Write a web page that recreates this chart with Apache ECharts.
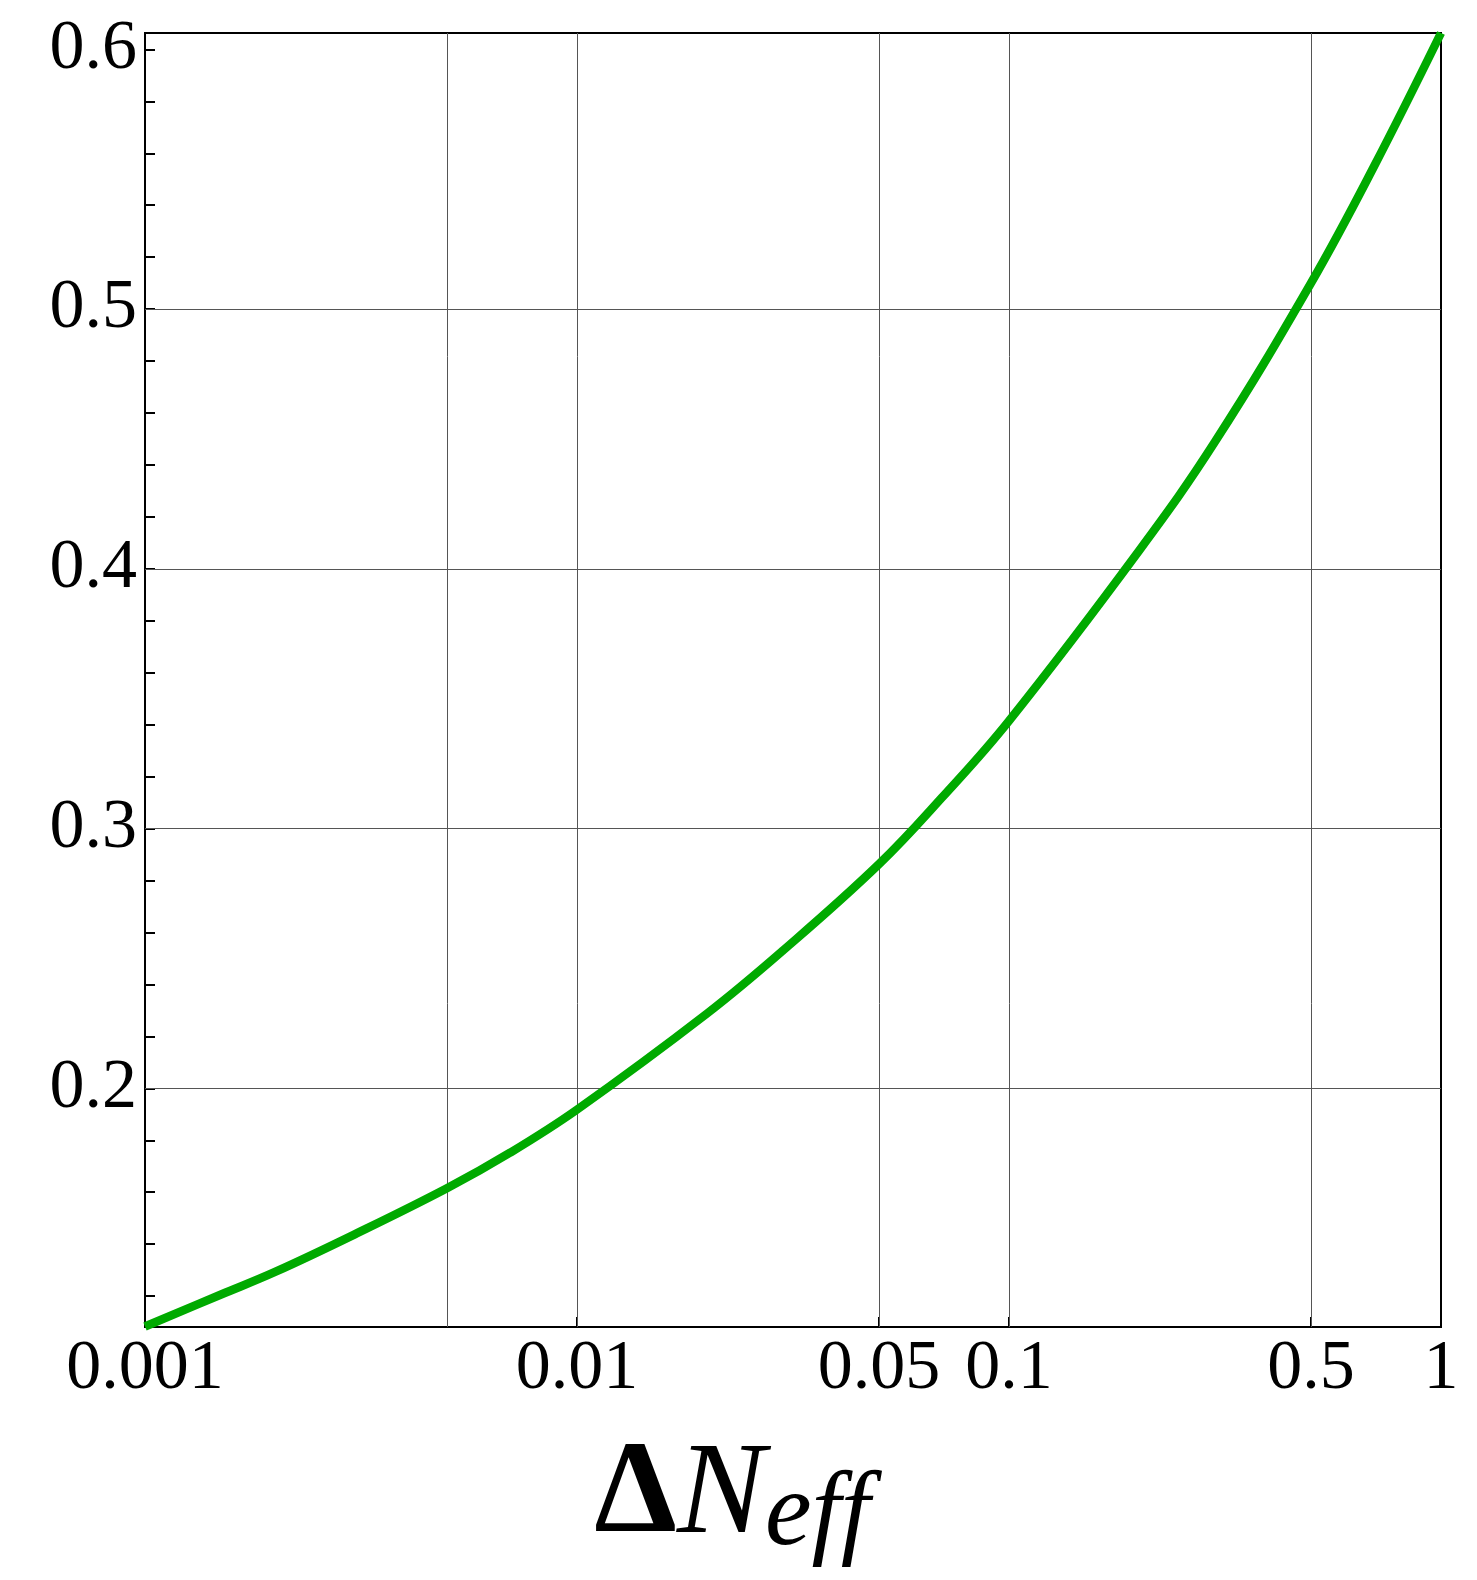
<!DOCTYPE html>
<html>
<head>
<meta charset="utf-8">
<script src="https://cdn.jsdelivr.net/npm/echarts@6/dist/echarts.min.js"></script>
<style>
  html, body { margin: 0; padding: 0; background: #fff; }
  #chart { width: 1477px; height: 1580px; }
</style>
</head>
<body>
<div id="chart"></div>
<script>
// ΔN_eff sample points (log-spaced) and the curve value at each
const deltaNeff = [0.001, 0.0015, 0.002, 0.003, 0.005, 0.007, 0.01, 0.02, 0.03, 0.05, 0.07, 0.1, 0.2, 0.3, 0.5, 0.7, 1];
const curveValues = [0.1083, 0.1206, 0.1293, 0.1431, 0.1615, 0.1752, 0.1918, 0.2288, 0.2531, 0.2863, 0.312, 0.3415, 0.407, 0.449, 0.510, 0.555, 0.6063];

// axis ranges
const xRange = [0.001, 1];
const yRange = [0.1081, 0.6063];

// tick labels and grid lines
const xTickLabels = [0.001, 0.01, 0.05, 0.1, 0.5, 1];
const xTickMarks = [0.01, 0.05, 0.1, 0.5];
const xGridLines = [0.005, 0.01, 0.05, 0.1, 0.5];
const yTickLabels = [0.2, 0.3, 0.4, 0.5, 0.6];
const yTickMarks = [0.12, 0.14, 0.16, 0.18, 0.2, 0.22, 0.24, 0.26, 0.28, 0.3, 0.32, 0.34, 0.36, 0.38, 0.4, 0.42, 0.44, 0.46, 0.48, 0.5, 0.52, 0.54, 0.56, 0.58, 0.6];
const yGridLines = [0.2, 0.3, 0.4, 0.5];

const FONT = "'Liberation Serif', 'Times New Roman', serif";

const chart = echarts.init(document.getElementById('chart'), null, { renderer: 'canvas' });

// vertical grid lines span the full y range, horizontal ones the full x range
const gridLineData = xGridLines
  .map(v => [{ coord: [v, yRange[0]] }, { coord: [v, yRange[1]] }])
  .concat(yGridLines.map(v => [{ coord: [xRange[0], v] }, { coord: [xRange[1], v] }]));

chart.setOption({
  animation: false,
  backgroundColor: '#fff',
  grid: {
    left: 145, top: 33, right: 36, bottom: 253,
    show: true, borderColor: '#000', borderWidth: 2, backgroundColor: 'transparent'
  },
  xAxis: {
    type: 'log',
    logBase: 10,
    min: xRange[0],
    max: xRange[1],
    axisLine: { show: true, lineStyle: { color: '#000', width: 2 } },
    axisTick: { show: true, inside: true, length: 10, customValues: xTickMarks, lineStyle: { color: '#000', width: 2 } },
    minorTick: { show: false },
    splitLine: { show: false },
    axisLabel: {
      customValues: xTickLabels,
      fontFamily: FONT, fontSize: 70, color: '#000', margin: 8,
      formatter: v => String(+(+v).toPrecision(6))
    },
    name: '{d|Δ}{n|N}{s|eff}',
    nameLocation: 'middle',
    nameGap: 110,
    nameTextStyle: {
      padding: [0, 122, 0, 0],
      rich: {
        d: { fontFamily: FONT, fontSize: 132, fontWeight: 'bold', color: '#000', verticalAlign: 'bottom', lineHeight: 132, padding: [0, 0, 6, 0] },
        n: { fontFamily: FONT, fontSize: 132, fontStyle: 'italic', color: '#000', verticalAlign: 'bottom', lineHeight: 132, padding: [0, 0, 6, 0] },
        s: { fontFamily: FONT, fontSize: 105, fontStyle: 'italic', color: '#000', verticalAlign: 'bottom', lineHeight: 105 }
      }
    }
  },
  yAxis: {
    type: 'value',
    min: yRange[0],
    max: yRange[1],
    axisLine: { show: true, lineStyle: { color: '#000', width: 2 } },
    axisTick: { show: true, inside: true, length: 10, customValues: yTickMarks, lineStyle: { color: '#000', width: 2 } },
    splitLine: { show: false },
    axisLabel: {
      customValues: yTickLabels,
      fontFamily: FONT, fontSize: 70, color: '#000', margin: 8,
      formatter: v => (+v).toFixed(1)
    }
  },
  series: [
    {
      name: 'curve',
      type: 'line',
      z: 5,
      data: deltaNeff.map((x, i) => [x, curveValues[i]]),
      showSymbol: false,
      smooth: 0.4,
      lineStyle: { color: '#00aa00', width: 8.5 },
      clip: false,
      markLine: {
        silent: true,
        z: 1,
        symbol: ['none', 'none'],
        label: { show: false },
        lineStyle: { color: '#555', width: 1, type: 'solid' },
        emphasis: { disabled: true },
        data: gridLineData
      }
    }
  ]
});
</script>
</body>
</html>
